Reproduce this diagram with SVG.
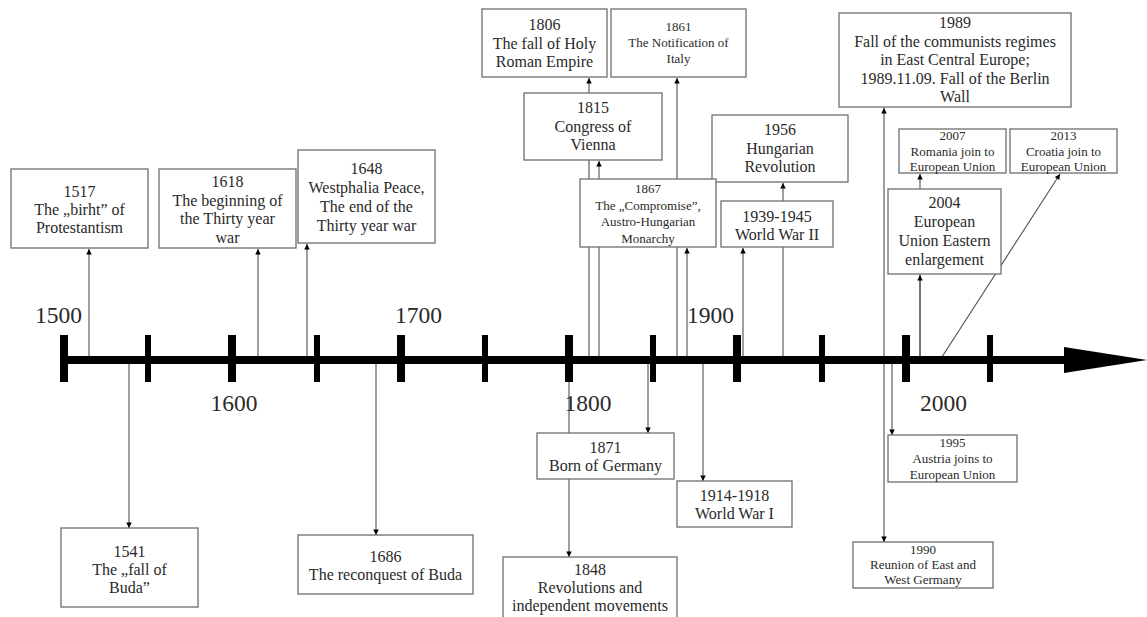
<svg xmlns="http://www.w3.org/2000/svg" width="1147" height="617" viewBox="0 0 1147 617">
<style>
  .box { fill: #ffffff; stroke: #6e6e6e; stroke-width: 1.3; }
  .t { font-family: "Liberation Serif", "Times New Roman", serif; font-size: 16px; fill: #2a2a2a; text-anchor: middle; }
  .s { font-size: 13px; }
  .yr { font-family: "Liberation Serif", "Times New Roman", serif; font-size: 23.5px; fill: #2a2a2a; text-anchor: middle; }
  .c { stroke: #505050; stroke-width: 1.1; fill: none; marker-end: url(#arr); }
  .tick { fill: #000; }
</style>
<defs>
  <marker id="arr" viewBox="0 0 6 6" refX="6" refY="3" markerWidth="6" markerHeight="5.5" orient="auto" markerUnits="userSpaceOnUse">
    <path d="M0,0 L6,3 L0,6 Z" fill="#000"/>
  </marker>
</defs>

<g id="connectors">
  <line class="c" x1="89" y1="360" x2="89" y2="249"/>
  <line class="c" x1="258" y1="360" x2="258" y2="249"/>
  <line class="c" x1="307" y1="360" x2="307" y2="244"/>
  <line class="c" x1="129" y1="360" x2="129" y2="528"/>
  <line class="c" x1="376" y1="360" x2="376" y2="535"/>
  <line class="c" x1="589" y1="360" x2="589" y2="78"/>
  <line class="c" x1="599" y1="360" x2="599" y2="161"/>
  <line class="c" x1="677" y1="360" x2="677" y2="78"/>
  <line class="c" x1="687" y1="360" x2="687" y2="248"/>
  <line class="c" x1="569" y1="360" x2="569" y2="557"/>
  <line class="c" x1="648" y1="360" x2="648" y2="433"/>
  <line class="c" x1="703" y1="360" x2="703" y2="481"/>
  <line class="c" x1="743" y1="360" x2="743" y2="248"/>
  <line class="c" x1="783" y1="360" x2="783" y2="183"/>
  <line class="c" x1="884" y1="360" x2="884" y2="108"/>
  <line class="c" x1="884" y1="360" x2="884" y2="542"/>
  <line class="c" x1="892" y1="360" x2="892" y2="435"/>
  <line class="c" x1="920" y1="360" x2="920" y2="174"/>
  <line class="c" x1="920" y1="360" x2="920" y2="275"/>
  <line class="c" x1="940" y1="360" x2="1060" y2="174"/>
</g>

<g id="axis">
  <rect x="60" y="356" width="1006" height="8" fill="#000"/>
  <polygon points="1064,347 1147,360 1064,373" fill="#000"/>
  <rect class="tick" x="60" y="335" width="8" height="47"/>
  <rect class="tick" x="145" y="335" width="6" height="47"/>
  <rect class="tick" x="228" y="335" width="8" height="47"/>
  <rect class="tick" x="314" y="335" width="6" height="47"/>
  <rect class="tick" x="397" y="335" width="8" height="47"/>
  <rect class="tick" x="482" y="335" width="6" height="47"/>
  <rect class="tick" x="565" y="335" width="8" height="47"/>
  <rect class="tick" x="650" y="335" width="6" height="47"/>
  <rect class="tick" x="733" y="335" width="8" height="47"/>
  <rect class="tick" x="819" y="335" width="6" height="47"/>
  <rect class="tick" x="902" y="335" width="8" height="47"/>
  <rect class="tick" x="987" y="335" width="6" height="47"/>
  <text class="yr" x="58.5" y="323">1500</text>
  <text class="yr" x="234" y="411">1600</text>
  <text class="yr" x="418.5" y="323">1700</text>
  <text class="yr" x="588" y="411">1800</text>
  <text class="yr" x="710.5" y="323">1900</text>
  <text class="yr" x="943.5" y="411">2000</text>
</g>

<g id="n1517">
  <rect class="box" x="11" y="169" width="137" height="79"/>
  <text class="t" x="79.5" y="197">1517</text>
  <text class="t" x="79.5" y="215">The „birht” of</text>
  <text class="t" x="79.5" y="233">Protestantism</text>
</g>
<g id="n1618">
  <rect class="box" x="159" y="169" width="137" height="79"/>
  <text class="t" x="227.5" y="187">1618</text>
  <text class="t" x="227.5" y="205.5">The beginning of</text>
  <text class="t" x="227.5" y="224">the Thirty year</text>
  <text class="t" x="227.5" y="242.5">war</text>
</g>
<g id="n1648">
  <rect class="box" x="298" y="150" width="137" height="93"/>
  <text class="t" x="366.5" y="174">1648</text>
  <text class="t" x="366.5" y="193">Westphalia Peace,</text>
  <text class="t" x="366.5" y="212">The end of the</text>
  <text class="t" x="366.5" y="231">Thirty year war</text>
</g>
<g id="n1541">
  <rect class="box" x="61" y="528" width="137" height="79"/>
  <text class="t" x="129.5" y="557">1541</text>
  <text class="t" x="129.5" y="575">The „fall of</text>
  <text class="t" x="129.5" y="593">Buda”</text>
</g>
<g id="n1686">
  <rect class="box" x="298" y="535" width="175" height="59"/>
  <text class="t" x="385.5" y="562">1686</text>
  <text class="t" x="385.5" y="580">The reconquest of Buda</text>
</g>
<g id="n1806">
  <rect class="box" x="482" y="9" width="125" height="68"/>
  <text class="t" x="544.5" y="30">1806</text>
  <text class="t" x="544.5" y="49">The fall of Holy</text>
  <text class="t" x="544.5" y="67">Roman Empire</text>
</g>
<g id="n1861">
  <rect class="box" x="611" y="9" width="135" height="68"/>
  <text class="t s" x="678.5" y="31">1861</text>
  <text class="t s" x="678.5" y="47">The Notification of</text>
  <text class="t s" x="678.5" y="63">Italy</text>
</g>
<g id="n1815">
  <rect class="box" x="524" y="93" width="138" height="67"/>
  <text class="t" x="593" y="113">1815</text>
  <text class="t" x="593" y="131.5">Congress of</text>
  <text class="t" x="593" y="150">Vienna</text>
</g>
<g id="n1956">
  <rect class="box" x="712" y="115" width="136" height="67"/>
  <text class="t" x="780" y="135">1956</text>
  <text class="t" x="780" y="153.5">Hungarian</text>
  <text class="t" x="780" y="172">Revolution</text>
</g>
<g id="n1867">
  <rect class="box" x="580" y="179" width="136" height="68"/>
  <text class="t s" x="648" y="193">1867</text>
  <text class="t s" x="648" y="209.5">The „Compromise”,</text>
  <text class="t s" x="648" y="226">Austro-Hungarian</text>
  <text class="t s" x="648" y="242.5">Monarchy</text>
</g>
<g id="n1939">
  <rect class="box" x="721" y="201" width="112" height="46"/>
  <text class="t" x="777" y="222">1939-1945</text>
  <text class="t" x="777" y="240">World War II</text>
</g>
<g id="n1989">
  <rect class="box" x="839" y="13" width="232" height="94"/>
  <text class="t" x="955" y="28">1989</text>
  <text class="t" x="955" y="46.5">Fall of the communists regimes</text>
  <text class="t" x="955" y="65">in East Central Europe;</text>
  <text class="t" x="955" y="83.5">1989.11.09. Fall of the Berlin</text>
  <text class="t" x="955" y="102">Wall</text>
</g>
<g id="n2007">
  <rect class="box" x="899" y="129" width="107" height="44"/>
  <text class="t s" x="952.5" y="140">2007</text>
  <text class="t s" x="952.5" y="156">Romania join to</text>
  <text class="t s" x="952.5" y="171">European Union</text>
</g>
<g id="n2013">
  <rect class="box" x="1010" y="129" width="107" height="44"/>
  <text class="t s" x="1063.5" y="140">2013</text>
  <text class="t s" x="1063.5" y="156">Croatia join to</text>
  <text class="t s" x="1063.5" y="171">European Union</text>
</g>
<g id="n2004">
  <rect class="box" x="888" y="189" width="113" height="85"/>
  <text class="t" x="944.5" y="208">2004</text>
  <text class="t" x="944.5" y="227">European</text>
  <text class="t" x="944.5" y="246">Union Eastern</text>
  <text class="t" x="944.5" y="265">enlargement</text>
</g>
<g id="n1871">
  <rect class="box" x="537" y="433" width="137" height="46"/>
  <text class="t" x="605.5" y="453">1871</text>
  <text class="t" x="605.5" y="471">Born of Germany</text>
</g>
<g id="n1848">
  <rect class="box" x="503" y="557" width="174" height="70"/>
  <text class="t" x="590" y="575">1848</text>
  <text class="t" x="590" y="593">Revolutions and</text>
  <text class="t" x="590" y="611">independent movements</text>
</g>
<g id="n1914">
  <rect class="box" x="677" y="481" width="115" height="46"/>
  <text class="t" x="734.5" y="501">1914-1918</text>
  <text class="t" x="734.5" y="519">World War I</text>
</g>
<g id="n1995">
  <rect class="box" x="888" y="435" width="129" height="47"/>
  <text class="t s" x="952.5" y="447">1995</text>
  <text class="t s" x="952.5" y="463">Austria joins to</text>
  <text class="t s" x="952.5" y="479">European Union</text>
</g>
<g id="n1990">
  <rect class="box" x="853" y="542" width="140" height="46"/>
  <text class="t s" x="923" y="554">1990</text>
  <text class="t s" x="923" y="569">Reunion of East and</text>
  <text class="t s" x="923" y="584">West Germany</text>
</g>
</svg>
